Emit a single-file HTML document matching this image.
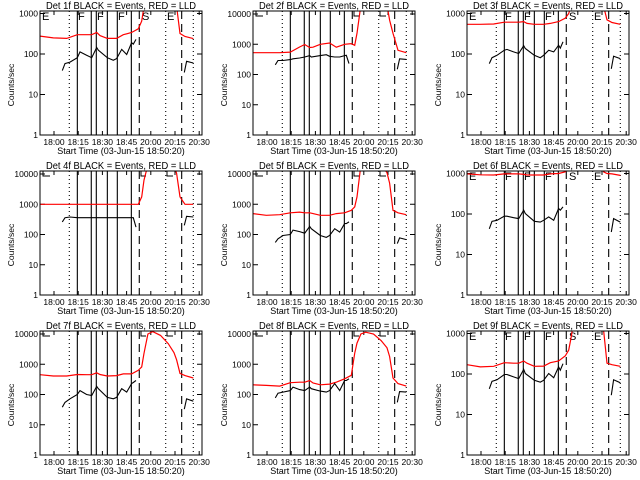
<!DOCTYPE html>
<html><head><meta charset="utf-8">
<style>
html,body{margin:0;padding:0;background:#fff;}
svg{display:block;}
text{font-family:"Liberation Sans",sans-serif;fill:#000;}
</style></head>
<body>
<svg id="chart" width="640" height="480" viewBox="0 0 640 480" xmlns="http://www.w3.org/2000/svg">
<rect width="640" height="480" fill="#fff"/>
</svg>
<script>
// time in minutes relative to first tick; ticks every 25 minutes
const xTickLabels = ["18:00","18:15","18:30","18:45","20:00","20:15","20:30"];
const xTickValues = [0,25,50,75,100,125,150];
const redTimes = [-14.5,-0.7,13.1,24.1,33.7,38.9,44.1,47.5,55.1,64.7,71.6,80.2,87.1,90.6,93.0,97,102,110,118,124,126.7,130.2,135.3,143.9];
const blackTimes1 = [8.6,11.4,16.5,24.1,26.9,33.7,38.9,44.1,45.8,55.1,61.3,64.7,69.9,75.1,80.2,81.9,84.7];
const blackTimes2 = [134.6,137.0,143.9];
const solidLines = [24.1,38.5,43.7,55.1,65.4,79.9];
const dottedLines = [15.8,115.4,143.9];
const dashedLines = [88.1,131.9];
const detNames = ["1f","2f","3f","4f","5f","6f","7f","8f","9f"];
const yMaxDecade = [3,4,3,4,4,3,4,4,3];
const red1 = [277,250,243,300,300,300,340,285,243,243,300,340,420,650,1500,3000,3000,3000,3000,3000,1500,320,270,240];
const red2 = [525,525,525,550,810,980,780,800,1000,1100,800,1000,1050,920,2300,20000,20000,20000,20000,20000,6300,2300,630,525];
const red3 = [540,540,550,610,610,610,630,570,540,540,570,630,770,1000,1500,3000,3000,3000,3000,3000,1500,700,600,540];
const red4 = [1000,1000,1000,1000,1000,1000,1000,1000,1000,1000,1000,1000,1000,1750,6300,20000,20000,20000,20000,20000,10500,1750,1000,1000];
const red5 = [490,430,450,520,550,520,520,490,430,430,490,520,630,820,1750,20000,20000,20000,20000,11000,5000,630,520,450];
const red6 = [980,930,920,980,980,980,950,920,920,920,980,1000,1100,1300,1500,3000,3000,3000,3000,3000,1100,1000,980,900];
const red7 = [450,410,410,460,450,450,520,460,410,420,480,480,630,820,2300,10000,12000,9000,4800,2400,1400,500,420,350];
const red8 = [210,200,190,245,255,255,290,240,210,220,255,330,430,2300,5000,10000,11500,10000,6000,3500,1800,350,230,190];
const red9 = [170,150,155,190,185,185,210,185,155,157,190,210,280,390,770,3000,3000,3000,3000,3000,1200,185,170,155];
const black1 = [39,58,63,81,113,93,81,145,124,81,70,77,130,97,190,175,230];
const black2 = [210,290,290,310,330,350,380,420,380,420,450,400,380,380,420,430,230];
const black3 = [58,81,93,124,130,113,103,160,137,93,81,93,124,113,165,140,200];
const black4 = [260,360,380,360,360,360,360,360,360,360,360,360,360,360,360,360,175];
const black5 = [55,72,93,100,140,125,110,185,155,93,80,93,155,120,230,230,260];
const black6 = [43,66,70,88,88,81,77,124,103,66,63,70,85,70,137,124,150];
const black7 = [38,55,72,100,135,100,93,185,155,80,72,80,155,120,230,250,290];
const black8 = [77,110,120,135,175,145,135,175,155,130,120,135,230,135,290,290,330];
const black9 = [43,66,72,97,97,85,77,130,103,70,63,70,103,81,150,124,180];
const blackPost1 = [35,66,60];
const blackPost2 = [150,330,315];
const blackPost3 = [43,88,77];
const blackPost4 = [200,400,380];
const blackPost5 = [50,77,68];
const blackPost6 = [36,77,63];
const blackPost7 = [33,72,60];
const blackPost8 = [55,125,120];
const blackPost9 = [30,72,61];

const reds = [red1,red2,red3,red4,red5,red6,red7,red8,red9];
const blacks = [black1,black2,black3,black4,black5,black6,black7,black8,black9];
const blackPosts = [blackPost1,blackPost2,blackPost3,blackPost4,blackPost5,blackPost6,blackPost7,blackPost8,blackPost9];

const NS = "http://www.w3.org/2000/svg";
const svg = document.getElementById('chart');
function mk(tag, attrs, parent){
  const e = document.createElementNS(NS, tag);
  for (const k in attrs) e.setAttribute(k, attrs[k]);
  parent.appendChild(e);
  return e;
}
const PL=40, PR=202, PT=11, PB=135;
function xs(m){ return 54 + m*0.968; }
function makeYs(dec){
  const lab = dec===3 ? 13.5 : 14;
  const per = (PB-lab)/dec;
  return v => PB - Math.log10(v)*per;
}
const colX=[0,213,427], rowY=[0,160,320];
for (let i=0;i<9;i++){
  const g = mk('g',{transform:`translate(${colX[i%3]},${rowY[Math.floor(i/3)]})`},svg);
  
  
  const dec = yMaxDecade[i];
  const ys = makeYs(dec);
  const cid = 'clip'+i;
  const cp = mk('clipPath',{id:cid},g);
  mk('rect',{x:PL,y:PT,width:PR-PL,height:PB-PT},cp);
  const t = mk('text',{x:121,y:9,'font-size':9.8,'text-anchor':'middle',textLength:150,lengthAdjust:'spacingAndGlyphs'},g);
  t.textContent = 'Det '+detNames[i]+' BLACK = Events, RED = LLD';
  
  
  const yl = mk('text',{x:0,y:0,'font-size':8.5,'text-anchor':'middle',transform:'translate(14,85) rotate(-90)'},g);
  yl.textContent='Counts/sec';
  
  
  const xl = mk('text',{x:121,y:154,'font-size':9,'text-anchor':'middle'},g);
  xl.textContent='Start Time (03-Jun-15 18:50:20)';
  
  
  for (let d=0; d<=dec; d++){
    const y = ys(Math.pow(10,d));
    mk('line',{x1:PL,x2:PL+5,y1:y,y2:y,stroke:'#000','stroke-width':1},g);
    mk('line',{x1:PR-5,x2:PR,y1:y,y2:y,stroke:'#000','stroke-width':1},g);
    const tl = mk('text',{x:38,y:y+3,'font-size':8.5,'text-anchor':'end'},g);
    tl.textContent = String(Math.pow(10,d));
    
    
  }
  xTickValues.forEach((m,k)=>{
    const x = xs(m);
    mk('line',{x1:x,x2:x,y1:PB,y2:PB-4,stroke:'#000'},g);
    mk('line',{x1:x,x2:x,y1:PT,y2:PT+4,stroke:'#000'},g);
    const tl = mk('text',{x:x,y:145,'font-size':8.5,'text-anchor':'middle'},g);
    tl.textContent = xTickLabels[k];
    
    
  });
  solidLines.forEach(m=>{ const l=mk('line',{x1:xs(m),x2:xs(m),y1:PT,y2:PB,stroke:'#000','stroke-width':1.1},g);
      });
  dottedLines.forEach(m=>{ const l=mk('line',{x1:xs(m),x2:xs(m),y1:PT,y2:PB,stroke:'#000','stroke-width':1.1,'stroke-dasharray':'1 3'},g);
      });
  dashedLines.forEach(m=>{ const l=mk('line',{x1:xs(m),x2:xs(m),y1:PT,y2:PB,stroke:'#000','stroke-width':1.1,'stroke-dasharray':'8 5'},g);
      });
  if (dec===3){
    [['E',41],['F',77],['F',96],['F',117],['S',141],['E',166]].forEach(([c,x])=>{
      const tx = mk('text',{x:x+1,y:20,'font-size':11},g);
      tx.textContent=c;
      
      
    });
  } else {
    [[43,50],[141,146],[167,173]].forEach(([a,b])=>{
      mk('polyline',{points:`${a},11 ${a},16 ${b},16`,fill:'none',stroke:'#000'},g);
    });
  }
  const rv = reds[i];
  const rp = redTimes.map((m,k)=>xs(m).toFixed(1)+','+ys(rv[k]).toFixed(1)).join(' ');
  const rl = mk('polyline',{points:rp,fill:'none',stroke:'#ff0000','stroke-width':1.2,'clip-path':`url(#${cid})`},g);
  
  
  const bv = blacks[i];
  const bp = blackTimes1.map((m,k)=>xs(m).toFixed(1)+','+ys(bv[k]).toFixed(1)).join(' ');
  const bl = mk('polyline',{points:bp,fill:'none',stroke:'#000','stroke-width':1.1,'clip-path':`url(#${cid})`},g);
  
  
  const bv2 = blackPosts[i];
  const bp2 = blackTimes2.map((m,k)=>xs(m).toFixed(1)+','+ys(bv2[k]).toFixed(1)).join(' ');
  const bl2 = mk('polyline',{points:bp2,fill:'none',stroke:'#000','stroke-width':1.1,'clip-path':`url(#${cid})`},g);
  
  
  const fr = mk('rect',{x:PL,y:PT,width:PR-PL,height:PB-PT,fill:'none',stroke:'#000','stroke-width':1},g);
  
  
}
</script>
</body></html>
